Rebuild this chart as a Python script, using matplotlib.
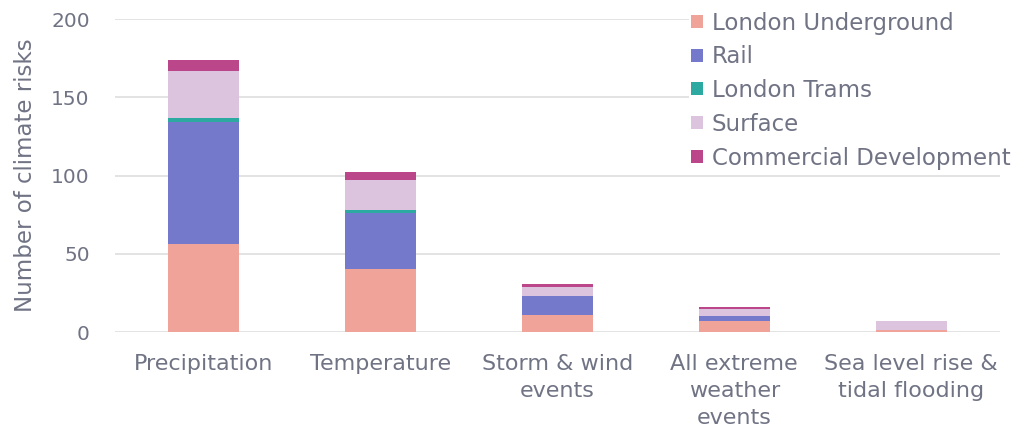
import matplotlib
matplotlib.use("Agg")
import matplotlib.pyplot as plt
import numpy as np

categories = ["Precipitation", "Temperature", "Storm & wind\nevents",
              "All extreme\nweather\nevents", "Sea level rise &\ntidal flooding"]
series_names = ["London Underground", "Rail", "London Trams", "Surface",
                "Commercial Development"]
london_underground = [56, 40, 11, 7, 1]
rail = [78, 36, 12, 3, 0]
london_trams = [3, 2, 0, 0, 0]
surface = [30, 19, 6, 5, 6]
commercial_development = [7, 5, 2, 1, 0]
y_ticks = [0, 50, 100, 150, 200]

colors = ["#f0a398", "#7579cb", "#2ca9a1", "#dcc4de", "#bb4689"]
text_color = "#707384"

plt.rcParams["font.family"] = ["DejaVu Sans"]

fig = plt.figure(figsize=(10.15, 4.34), dpi=100)
ax = fig.add_axes([0.113, 0.235, 0.872, 0.721])

x = np.arange(len(categories))
bottom = np.zeros(len(categories))
for name, vals, col in zip(series_names,
                           [london_underground, rail, london_trams, surface,
                            commercial_development], colors):
    ax.bar(x, vals, width=0.4, bottom=bottom, color=col, label=name, zorder=2)
    bottom += np.array(vals)

ax.set_xlim(-0.5, len(categories) - 0.5)
ax.set_ylim(0, 200)
ax.set_yticks(y_ticks)
ax.set_xticks(x)
ax.set_xticklabels(categories, linespacing=1.42, fontsize=16)
ax.yaxis.grid(True, color="#dedede", linewidth=1.2, zorder=0)
ax.set_axisbelow(True)
for s in ax.spines.values():
    s.set_visible(False)
ax.tick_params(axis="both", length=0, colors=text_color)
ax.tick_params(axis="y", labelsize=14.5, pad=18)
ax.tick_params(axis="x", pad=16)
ax.set_ylabel("Number of climate risks", fontsize=16.5, color=text_color, labelpad=10)

leg = ax.legend(loc="upper right", bbox_to_anchor=(1.014, 1.03), frameon=True,
                fontsize=16.5, handlelength=0.5, handleheight=0.5,
                handletextpad=0.4, labelspacing=0.47, borderpad=0.08,
                borderaxespad=0.0)
leg.get_frame().set_facecolor("white")
leg.get_frame().set_edgecolor("none")
leg.get_frame().set_alpha(1)
for t in leg.get_texts():
    t.set_color(text_color)

fig.savefig("out.png", dpi=100, facecolor="white")
